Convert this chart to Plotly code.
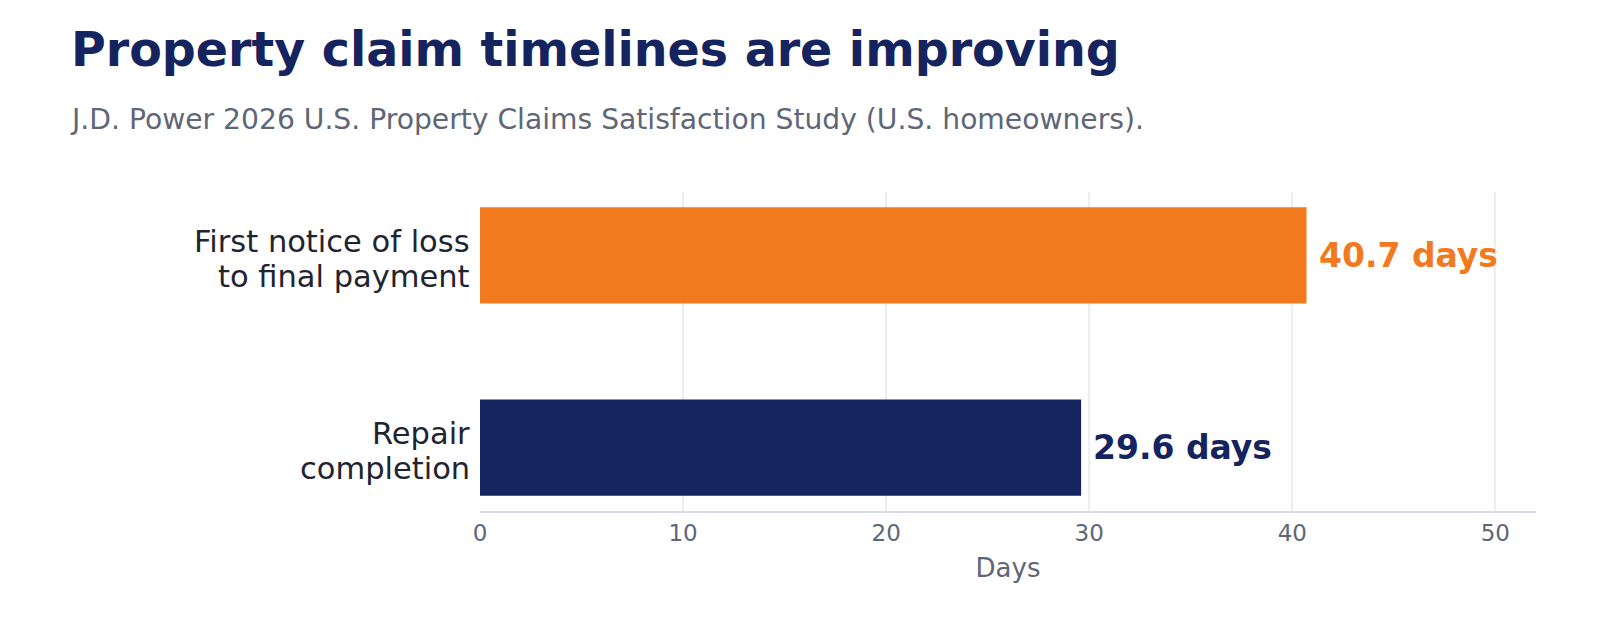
import plotly.graph_objects as go

categories = ["Repair<br>completion", "First notice of loss<br>to final payment"]
days = [29.6, 40.7]
bar_colors = ["#15245E", "#F27A1E"]
value_labels = ["29.6 days", "40.7 days"]
x_ticks = [0, 10, 20, 30, 40, 50]

font_family = "DejaVu Sans, Verdana, sans-serif"

fig = go.Figure()
fig.add_trace(go.Bar(
    x=days, y=categories, orientation="h",
    marker=dict(color=bar_colors, line=dict(width=0)),
    cliponaxis=False, hoverinfo="skip", width=0.5,
))

annotations = [dict(
    text="J.D. Power 2026 U.S. Property Claims Satisfaction Study (U.S. homeowners).",
    xref="paper", yref="paper", x=(68-480)/(1600-480-64), y=1+(192-119)/(640-192-129),
    xanchor="left", yanchor="middle", showarrow=False,
    font=dict(family=font_family, size=28.2, color="#5E6677"),
)]

# category labels, line by line (tight line spacing)
line_shifts = [14, -21]
for cat in categories:
    for line, shift in zip(cat.split("<br>"), line_shifts):
        annotations.append(dict(
            text=line, xref="paper", yref="y", x=0, y=cat,
            xanchor="right", yanchor="middle", xshift=-8, yshift=shift,
            showarrow=False, font=dict(family=font_family, size=30.5, color="#1F2430"),
        ))

# value labels
for cat, val, lab, col in zip(categories, days, value_labels, bar_colors):
    annotations.append(dict(
        text=f"<b>{lab}</b>", xref="x", yref="y", x=val, y=cat,
        xanchor="left", yanchor="middle", xshift=10, showarrow=False,
        font=dict(family=font_family, size=33, color=col),
    ))

fig.update_layout(
    width=1600, height=640,
    paper_bgcolor="white", plot_bgcolor="white",
    margin=dict(l=480, r=64, t=192, b=129),
    font=dict(family=font_family, color="#1F2430"),
    showlegend=False,
    title=dict(
        text="<b>Property claim timelines are improving</b>",
        x=71/1600, xanchor="left", xref="container",
        y=1-49/640, yanchor="middle", yref="container",
        font=dict(family=font_family, size=47.5, color="#15245E"),
    ),
    annotations=annotations,
)

fig.update_xaxes(
    range=[0, 52], tickvals=x_ticks, showgrid=True, gridcolor="#EBEEF5", gridwidth=2,
    zeroline=False, showline=True, linecolor="#D5D9EA", linewidth=2,
    tickfont=dict(size=23, color="#5E6677"), ticks="", ticklen=0,
    title=dict(text="Days", font=dict(size=26, color="#5E6677"), standoff=14),
)
fig.update_yaxes(
    range=[-0.33, 1.33], showgrid=False, zeroline=False, showline=False,
    showticklabels=False,
)

fig.write_html("out.html")
